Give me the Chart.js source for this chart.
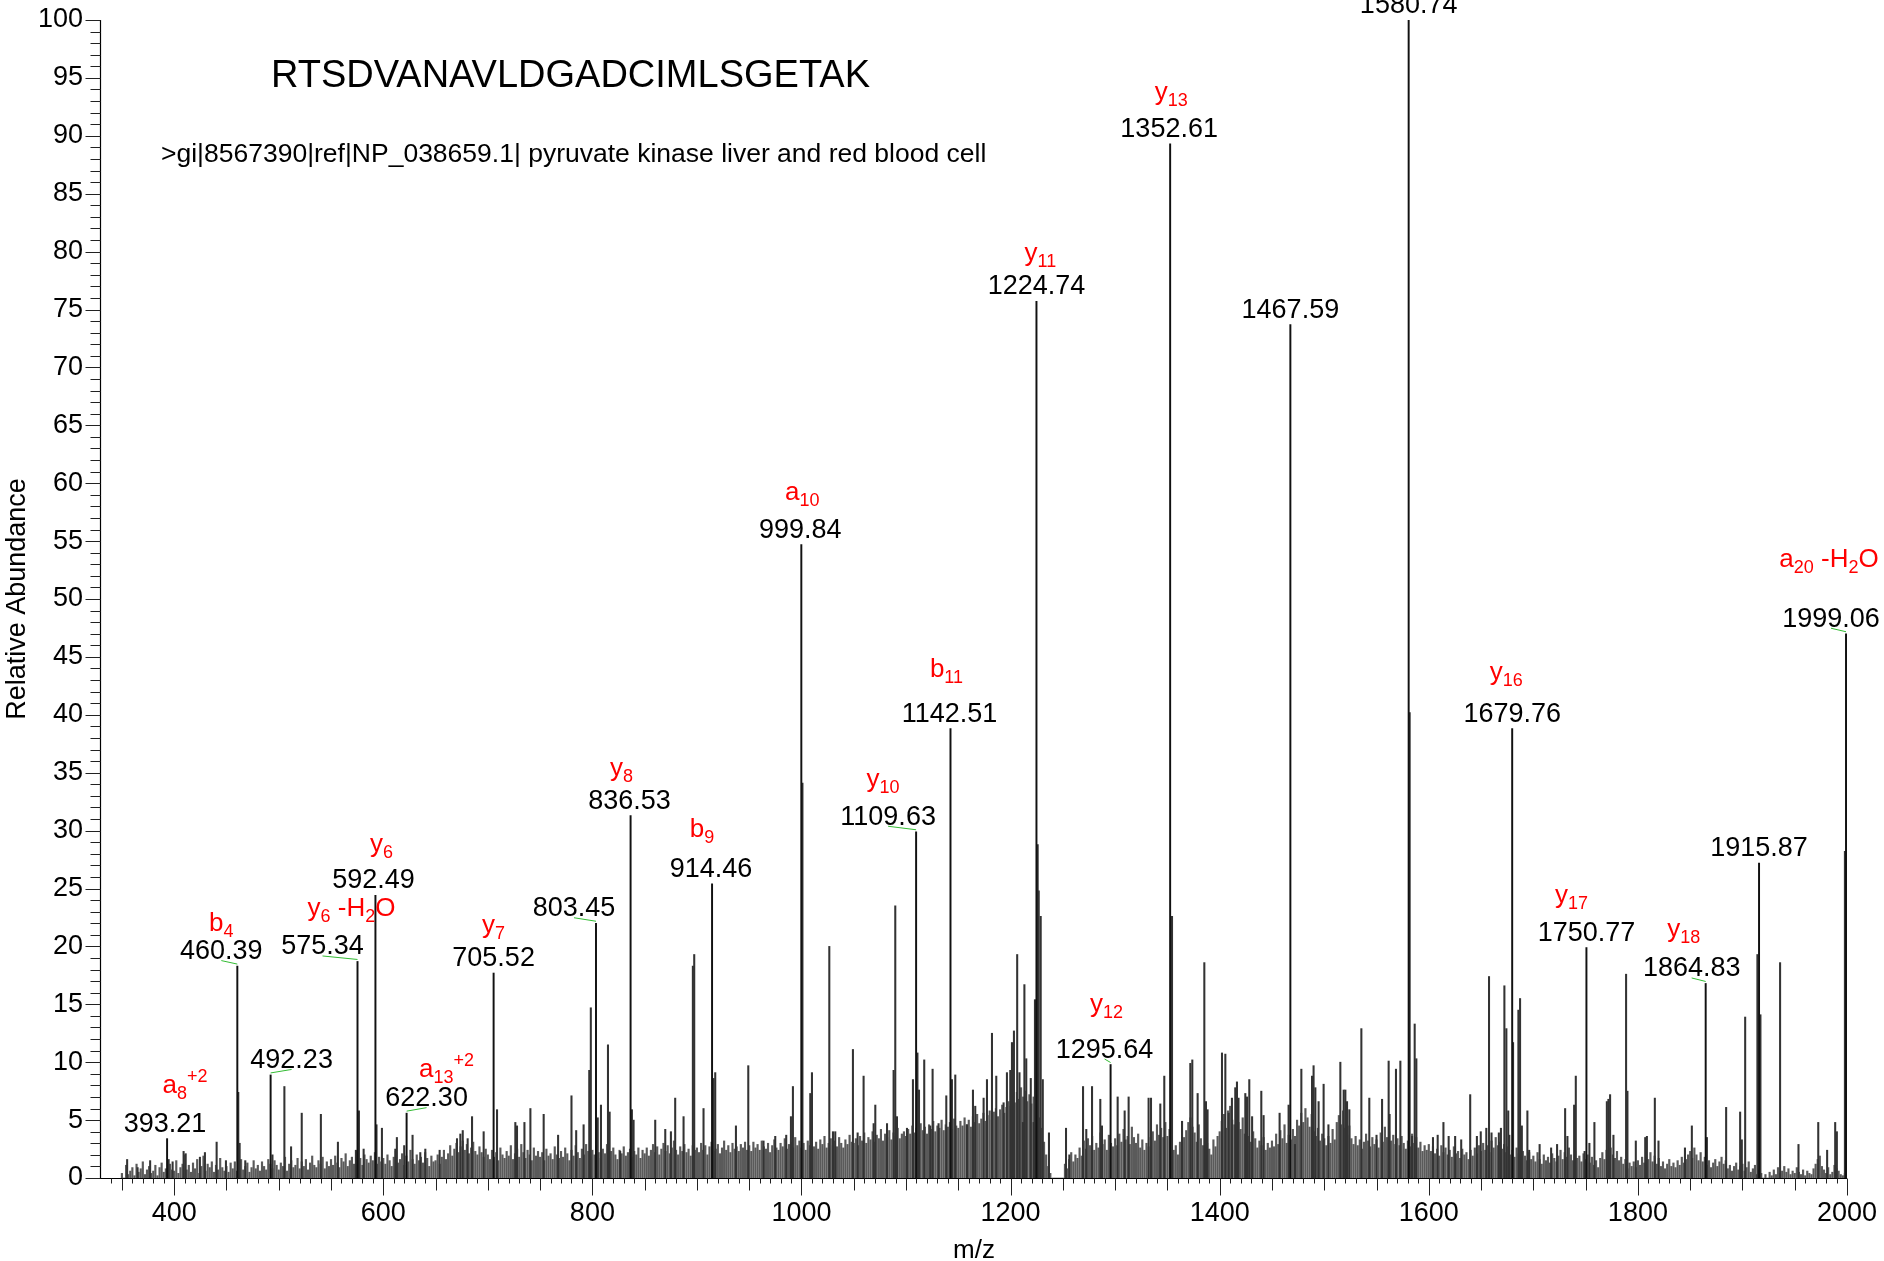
<!DOCTYPE html>
<html>
<head>
<meta charset="utf-8">
<title>RTSDVANAVLDGADCIMLSGETAK</title>
<script src="https://cdn.jsdelivr.net/npm/chart.js@4.4.1/dist/chart.umd.min.js"></script>
<style>
  html, body { margin: 0; padding: 0; background: #fff; }
  canvas { display: block; }
</style>
</head>
<body>
<canvas id="spectrum" width="1884" height="1261"></canvas>
<script>
const FONT = '"Liberation Sans", Arial, sans-serif';

const peptide = "RTSDVANAVLDGADCIMLSGETAK";
const proteinRef = ">gi|8567390|ref|NP_038659.1| pyruvate kinase liver and red blood cell";

// axis ticks
const xTicks = [400, 600, 800, 1000, 1200, 1400, 1600, 1800, 2000];
const yTicks = [0, 5, 10, 15, 20, 25, 30, 35, 40, 45, 50, 55, 60, 65, 70, 75, 80, 85, 90, 95, 100];

// annotated peaks (m/z, relative abundance, ion name; _ = subscript, ^ = superscript)
const labelMz = [393.21, 460.39, 492.23, 575.34, 592.49, 622.30, 705.52, 803.45, 836.53, 914.46, 999.84, 1109.63,
                 1142.51, 1224.74, 1295.64, 1352.61, 1467.59, 1580.74, 1679.76, 1750.77, 1864.83, 1915.87, 1999.06];
const labelInt = [3.4, 18.3, 8.9, 18.7, 24.4, 5.6, 17.7, 22.0, 31.3, 25.4, 54.7, 29.9,
                  38.8, 75.7, 9.8, 89.3, 73.7, 100, 38.8, 19.9, 16.8, 27.2, 47.0];
const ionNames = ["a_8^+2", "b_4", "", "y_6 -H_2O", "y_6", "a_13^+2", "y_7", "", "y_8", "b_9", "a_10", "y_10",
                  "b_11", "y_11", "y_12", "y_13", "", "", "y_16", "y_17", "y_18", "", "a_20 -H_2O"];

// label placement in pixels (offsets from the peak top)
const numDx = [-2, -16, 21, -35, -2, 20, 0, -22, -1, -1, -1, -28, -1, 0, -6, -1, 0, 0, 0, 0, -14, 0, -15];
const ionDx = [18, -16, 0, -6, 6, 40, 0, 0, -9, -10, 1, -33, -4, 4, -4, 1, 0, 0, -6, -15, -22, 0, -17];
const ionDy = [-46, -35, 0, -45, -43, -36, -40, 0, -40, -47, -45, -45, -52, -40, -53, -44, 0, 0, -49, -45, -46, 0, -67];
const leader = [0, 1, 1, 1, 0, 1, 0, 1, 0, 0, 0, 1, 0, 0, 1, 0, 0, 0, 0, 0, 1, 0, 1];

// other peaks
const peakMz = [355, 365, 377, 394.7, 398.5, 409, 411, 424.6, 429.4, 440.6, 449.5, 461.3, 462.6, 468, 494, 505.4,
  511.8, 522, 540.3, 556.6, 573.8, 576.7, 581.2, 593.5, 598.7, 611.5, 613, 620, 628, 635.4, 640.2, 653.9, 670.5,
  673.7, 676, 680.7, 684.9, 696, 708.8, 726.3, 727.9, 735, 740.7, 753.4, 767.2, 780, 784.5, 791.6, 797, 798.5,
  805.1, 808.2, 814.9, 816.5, 826.6, 837.8, 839.4, 860.1, 869.7, 875.1, 879.2, 887.2, 896.1, 897.4, 906.3, 915.9,
  917.5, 937.3, 949.1, 963.7, 974.9, 985.4, 989.9, 991.8, 1000.9, 1008.4, 1010, 1026.6, 1030.1, 1032.3, 1049.2,
  1053.7, 1059.4, 1069, 1070.6, 1081.8, 1088.1, 1089.7, 1091.3, 1100.9, 1106.6, 1110.9, 1112.4, 1117.4, 1123.2,
  1125.4, 1131.1, 1138.5, 1143.9, 1147.1, 1158.3, 1164, 1166.2, 1174.2, 1177.4, 1182.2, 1186.3, 1193.3, 1196.5,
  1199.7, 1201.3, 1203.2, 1206.3, 1208.5, 1211.8, 1213.2, 1215, 1219.3, 1222, 1223.3, 1225.9, 1226.9, 1228.8,
  1230.8, 1236.7, 1253, 1256.2, 1269.3, 1272.4, 1277.9, 1285.8, 1287.4, 1302.4, 1309.1, 1312.9, 1332, 1334.3,
  1343.2, 1347, 1354.4, 1364, 1371.9, 1373.8, 1378.9, 1385.3, 1386.9, 1388.4, 1402.2, 1405.4, 1408.6, 1411.7,
  1414.9, 1416.5, 1418, 1424.5, 1426.1, 1428.3, 1431, 1439.8, 1442, 1457.3, 1465.9, 1472, 1478.1, 1488.3, 1489.8,
  1491.5, 1494.6, 1499.4, 1504, 1515.4, 1518.6, 1520.2, 1521.8, 1524, 1535.5, 1543.1, 1550, 1555.3, 1561.6,
  1562.5, 1568.6, 1572.8, 1581.7, 1584, 1586.5, 1588.1, 1604, 1608.5, 1614, 1619, 1625.2, 1631, 1639.6, 1646,
  1649.7, 1655, 1657.6, 1660, 1667, 1669, 1672.3, 1674.2, 1676, 1677, 1680.6, 1685.7, 1687.3, 1689, 1694.3, 1696,
  1706, 1717, 1722.7, 1730.4, 1732.6, 1739, 1740.6, 1749, 1753.6, 1758.4, 1770.3, 1771.8, 1773.4, 1776.6, 1788.7,
  1790, 1798, 1807, 1808.6, 1816.2, 1819.7, 1845, 1851.6, 1866, 1884.4, 1897.8, 1899.4, 1902.6, 1914.3, 1917.2,
  1936, 1953.6, 1972.5, 1981, 1988.7, 1990.3, 1998];
const peakInt = [1.6, 0.9, 1.5, 1.6, 1.4, 2.3, 2.1, 1.8, 2.2, 3.1, 1.5, 7.4, 3.0, 1.5, 2.0, 7.9,
  2.7, 5.6, 5.5, 3.1, 2.4, 5.8, 2.5, 4.6, 4.3, 2.5, 3.5, 2.8, 3.7, 2.2, 2.5, 2.4, 3.4,
  3.8, 4.1, 3.4, 5.3, 4.0, 5.9, 4.8, 4.5, 4.8, 6.0, 5.5, 3.7, 7.1, 4.1, 4.6, 9.3, 14.7,
  5.2, 6.3, 11.5, 5.7, 2.3, 5.9, 5.0, 5.0, 4.2, 4.0, 6.9, 5.3, 18.3, 19.3, 6.0, 8.6,
  9.1, 4.5, 9.7, 3.2, 3.6, 3.7, 5.3, 7.9, 34.1, 7.3, 9.1, 20.0, 4.0, 4.0, 11.1,
  3.9, 8.8, 4.7, 6.3, 4.7, 9.3, 23.5, 5.3, 4.3, 8.5, 10.8, 7.6, 10.2, 4.5,
  9.4, 4.7, 7.1, 8.5, 8.9, 4.6, 7.6, 6.2, 6.9, 8.5, 12.5, 8.8, 6.5, 9.1,
  9.3, 11.7, 12.7, 19.3, 9.1, 4.8, 16.7, 10.3, 8.6, 4.8, 15.4, 28.8, 24.8, 22.6,
  8.5, 3.9, 4.3, 2.0, 7.9, 4.2, 7.9, 6.8, 4.5, 7.0, 5.8, 7.0, 6.9, 6.9,
  6.4, 8.8, 22.6, 4.9, 9.9, 10.2, 7.3, 18.6, 6.6, 5.9, 10.8, 10.7, 5.6, 6.9,
  7.8, 8.3, 6.9, 7.3, 7.0, 8.5, 5.3, 7.5, 5.4, 5.6, 6.3, 2.9, 9.4, 8.8, 9.7,
  7.8, 6.6, 8.1, 4.6, 10.0, 7.6, 7.6, 6.6, 5.9, 12.9, 6.9, 3.7, 6.8, 10.1,
  5.5, 9.4, 10.1, 40.2, 3.6, 13.3, 10.3, 3.5, 3.7, 4.8, 3.6, 3.6, 3.3, 7.2, 3.6,
  4.0, 4.3, 17.4, 3.9, 3.9, 4.3, 16.6, 12.9, 5.8, 3.7, 11.7, 14.5, 15.5, 4.5, 5.8, 2.4,
  2.9, 2.6, 2.9, 6.0, 3.6, 6.3, 8.8, 2.3, 3.0, 4.8, 6.6, 6.8, 7.2, 3.7, 17.6,
  7.5, 3.2, 3.5, 3.6, 6.9, 3.2, 2.6, 4.5, 3.5, 6.1, 5.7, 3.3, 13.9, 19.3, 14.1,
  18.6, 2.9, 4.8, 2.4, 4.8, 4.0, 28.2];

// baseline noise, one bar every 2 m/z from 350
const noiseStart = 350;
const noiseStep = 2;
const noiseInt = [
  0.4,0,1.1,0.3,0.6, 0.9,0.2,1.2,0.5,0.8, 1.4,0.3,0.7,1.0,0.4, 0.6,1.1,0.2,0.9,1.3, 0.5,0.8,0.4,1.2,0.7,
  0.6,1.5,0.4,0.9,1.2, 2.0,0.7,1.1,0.5,1.3, 0.8,1.6,0.4,1.0,1.9, 0.6,1.2,0.9,1.4,0.5, 1.1,0.7,1.7,0.9,0.6,
  1.0,0.5,1.3,0.8,1.4, 0.6,1.2,1.6,0.7,1.0, 1.3,0.5,0.9,1.5,0.8, 1.1,0.6,1.4,1.0,0.7, 1.6,1.2,0.8,1.5,1.1,
  0.7,1.3,1.0,1.8,0.6, 1.2,1.5,0.9,1.1,1.7, 0.8,1.4,1.0,1.6,0.7, 1.3,1.9,1.1,0.9,1.5, 1.2,1.8,0.8,1.4,1.0,
  1.6,1.1,1.9,1.3,0.9, 1.7,1.4,2.1,1.0,1.5, 1.8,1.2,2.3,1.4,1.7, 1.1,2.0,1.6,1.3,1.9, 1.5,2.2,1.2,1.8,1.4,
  1.7,1.2,2.0,1.5,1.0, 1.8,2.3,1.3,1.6,2.1, 1.1,1.9,1.4,2.4,1.6, 1.2,2.0,1.5,1.8,1.3, 2.2,1.7,1.0,1.9,1.4,
  1.5,2.0,1.2,1.8,2.4, 1.6,2.1,2.8,1.9,2.5, 3.0,2.2,2.7,3.2,2.4, 2.9,2.1,2.6,3.1,2.3, 2.0,2.7,2.2,1.8,2.5,
  2.0,1.6,2.4,1.8,2.2, 1.5,2.6,2.0,1.7,2.3, 1.9,2.8,1.6,2.1,2.5, 1.8,2.9,2.2,1.7,2.4, 2.0,1.5,2.6,1.9,2.3,
  1.8,2.2,1.5,2.5,1.9, 2.1,1.6,2.7,2.0,1.7, 2.3,1.8,2.6,2.1,1.5, 2.4,1.9,2.8,2.2,1.7, 2.5,2.0,2.9,2.3,1.8,
  2.4,2.0,2.8,2.2,1.7, 2.5,2.1,2.9,1.8,2.3, 2.6,2.0,1.6,2.4,2.1, 2.7,1.9,2.2,2.5,1.8, 2.3,2.0,2.6,1.7,2.4,
  2.1,2.6,1.9,2.4,2.9, 2.2,2.7,2.0,2.5,3.0, 2.3,2.8,2.1,2.6,3.2, 2.4,2.0,2.7,2.3,2.9, 2.2,2.5,1.9,2.8,2.4,
  2.6,2.2,3.0,2.4,2.8, 2.0,2.7,3.1,2.3,2.5, 2.9,2.1,2.6,3.2,2.4, 2.8,2.2,3.0,2.5,2.7, 2.3,2.9,2.6,3.1,2.4,
  2.8,2.3,3.1,2.6,2.9, 2.4,3.2,2.7,2.5,3.0, 2.2,2.8,3.3,2.6,2.4, 3.0,2.7,3.4,2.5,2.9, 3.1,2.6,3.5,2.8,3.2,
  2.6,3.0,2.4,3.2,2.8, 3.5,2.7,3.1,2.5,3.3, 2.9,3.6,2.6,3.0,3.4, 2.8,3.2,2.7,3.5,3.0, 2.6,3.3,2.9,3.7,3.1,
  3.0,3.4,2.8,3.6,3.2, 3.9,3.0,3.5,3.3,4.0, 3.1,3.7,3.4,4.2,3.2, 3.8,3.5,4.1,3.3,3.9, 3.6,4.3,3.4,3.8,4.0,
  3.6,4.2,3.8,4.5,3.9, 4.3,4.0,4.7,4.1,4.4, 3.8,4.6,4.2,4.9,4.0, 4.5,4.3,5.0,4.1,4.6, 4.4,4.8,4.2,5.1,4.5,
  4.3,4.9,4.5,5.2,4.6, 5.0,4.4,5.3,4.8,5.5, 4.7,5.1,5.6,4.9,5.4, 5.8,5.0,5.7,6.0,5.3, 5.9,6.3,5.6,6.1,6.6,
  6.2,6.9,6.5,7.4,6.8, 7.8,7.0,7.5,6.6,7.2, 6.4,7.0,6.0,6.5,5.2, 4.3,3.1,2.0,1.0,0.4, 0,0,0,0,0,
  0,1.2,0.8,1.6,2.2, 1.4,2.0,1.7,2.6,1.9, 3.2,2.5,3.4,2.8,3.6, 2.4,3.0,2.6,3.9,2.9, 3.3,2.4,3.7,3.0,2.7,
  3.4,2.8,3.8,3.1,4.2, 3.3,3.6,2.9,4.4,3.5, 3.0,3.8,2.6,3.3,2.4, 3.0,2.7,3.5,4.0,3.2, 4.6,3.7,4.3,3.5,4.8,
  3.6,4.2,3.3,2.4,2.8, 2.0,3.1,2.6,3.5,4.1, 4.8,5.2,4.4,3.9,3.1, 4.6,3.4,2.8,2.2,3.0, 2.5,2.0,3.3,2.7,3.6,
  4.0,4.9,5.5,4.3,5.8, 6.2,5.0,4.6,5.6,4.8, 4.2,5.2,3.8,4.5,3.6, 3.1,4.0,3.4,2.6,3.2, 2.8,3.5,2.4,3.0,2.6,
  3.2,2.7,3.8,2.9,4.1, 3.4,4.6,3.0,3.7,3.3, 4.2,3.6,5.0,4.5,5.6, 4.8,6.0,5.2,4.4,5.5, 4.0,3.6,4.3,3.2,3.8,
  3.4,2.8,3.6,3.0,4.2, 3.3,4.8,5.4,4.6,5.8, 4.3,3.7,4.5,3.4,2.9, 3.6,2.8,3.3,2.5,3.1, 3.8,3.2,2.7,3.5,2.9,
  3.3,2.6,3.9,3.1,4.4, 3.5,4.0,3.2,3.7,2.9, 3.4,2.8,3.6,3.0,2.5, 3.2,2.7,3.8,3.0,3.5, 2.6,3.1,2.3,2.8,2.4,
  2.9,2.3,2.7,2.1,2.5, 1.9,2.8,2.2,2.6,2.0, 2.4,1.8,2.7,2.1,2.3, 1.7,2.5,2.0,2.2,1.6, 2.4,1.9,2.6,2.1,2.8,
  2.3,3.0,2.4,2.8,2.2, 3.2,2.6,3.5,2.8,3.1, 2.5,2.9,2.2,2.7,2.0, 2.4,1.8,2.6,2.1,1.7, 2.3,1.9,1.5,2.2,1.6,
  1.9,1.4,2.2,1.6,1.2, 2.0,1.5,1.8,1.3,2.1, 1.7,1.4,1.9,2.4,1.6, 2.2,1.8,2.6,2.0,1.5, 2.3,1.7,1.9,1.4,2.1,
  1.6,2.0,1.3,1.8,1.1, 1.5,0.9,1.7,2.2,1.6, 2.4,1.9,2.6,2.0,1.7, 2.3,1.5,1.8,1.2,1.6, 0.8,1.3,1.0,1.4,0.9,
  1.5,1.1,1.8,1.3,0.9, 1.6,2.2,1.4,1.9,1.2, 1.7,1.0,1.4,0.8,1.2, 1.6,1.0,1.3,0.9,1.5, 1.1,1.8,1.3,1.6,2.0,
  2.3,1.7,2.6,2.0,1.5, 2.2,1.4,1.8,1.1,1.5, 0.9,1.3,1.6,1.0,1.4, 1.8,1.2,1.5,0.8,1.1, 0.6,1.0,1.3,0.7,1.0,
  1.2,0.6,0.9,1.4,0.5, 0.8,1.1,0.3,0.7,0.4, 0,0.3,0,0.5,0.2, 0.7,0.3,0.9,0.4,0.6, 1.0,0.5,0.8,0.3,0.6,
  0.4,0.9,0.5,0.3,0.7, 0.2,0.6,0.4,0.3,0.8, 1.2,1.6,1.9,1.0,0.7, 0.4,0.9,0.3,0.5,1.1, 0.8,0.6,0.3,0.2,0.4
];

function toPoints(xs, ys) {
    return xs.map((x, i) => ({ x: x, y: ys[i] }));
}

// splits "y_6 -H_2O" into normal / subscript / superscript runs
function parseIon(s) {
    const parts = [];
    let buf = "";
    let i = 0;
    while (i < s.length) {
        const c = s[i];
        if (c === "_" || c === "^") {
            if (buf) { parts.push({ t: buf, k: "n" }); buf = ""; }
            let j = i + 1, seg = "";
            while (j < s.length && /[0-9+\-]/.test(s[j])) { seg += s[j]; j++; }
            parts.push({ t: seg, k: c === "_" ? "sub" : "sup" });
            i = j;
        } else {
            buf += c;
            i++;
        }
    }
    if (buf) parts.push({ t: buf, k: "n" });
    return parts;
}

function drawIon(ctx, text, cx, baseY) {
    const parts = parseIon(text);
    const big = "26px " + FONT, small = "18px " + FONT;
    let w = 0;
    parts.forEach(p => {
        ctx.font = p.k === "n" ? big : small;
        p.w = ctx.measureText(p.t).width;
        w += p.w;
    });
    let x = cx - w / 2;
    ctx.textAlign = "left";
    ctx.textBaseline = "alphabetic";
    ctx.fillStyle = "#ff0000";
    parts.forEach(p => {
        ctx.font = p.k === "n" ? big : small;
        const dy = p.k === "sub" ? 6 : p.k === "sup" ? -11 : 0;
        ctx.fillText(p.t, x, baseY + dy);
        x += p.w;
    });
}

// keep the plot box where the original has it: no extra room for overhanging tick labels
function noLabelPadding(s) {
    s.paddingTop = 0;
    s.paddingBottom = 0;
    s.paddingLeft = 0;
    s.paddingRight = 0;
}

const spectrumDecor = {
    id: "spectrumDecor",
    afterDraw(chart) {
        const { ctx, chartArea: a } = chart;
        const xs = chart.scales.x, ys = chart.scales.y;
        ctx.save();

        // axis lines and tick marks
        ctx.strokeStyle = "#000";
        ctx.lineWidth = 1.2;
        const ax = a.left - 0.5, ay = a.bottom + 0.5;
        ctx.beginPath();
        ctx.moveTo(ax, a.top);
        ctx.lineTo(ax, ay);
        ctx.lineTo(a.right, ay);
        ctx.stroke();

        ctx.lineWidth = 1;
        ctx.strokeStyle = "#222";
        ctx.beginPath();
        for (let v = 0; v <= 100; v++) {
            const py = Math.round(ys.getPixelForValue(v)) + 0.5;
            const len = v % 5 === 0 ? 15 : 10;
            ctx.moveTo(ax - len, py);
            ctx.lineTo(ax, py);
        }
        for (let v = 340; v <= 2000; v += 10) {
            const px = Math.round(xs.getPixelForValue(v)) + 0.5;
            const len = v % 200 === 0 ? 17 : (v % 50 === 0 ? 12 : 5);
            ctx.moveTo(px, ay);
            ctx.lineTo(px, ay + len);
        }
        ctx.stroke();

        // header texts
        ctx.fillStyle = "#000";
        ctx.textAlign = "left";
        ctx.textBaseline = "alphabetic";
        ctx.font = "38px " + FONT;
        ctx.fillText(peptide, 271, 87);
        ctx.font = "26.5px " + FONT;
        ctx.fillText(proteinRef, 161, 162);

        // peak annotations
        labelMz.forEach((mz, i) => {
            const px = xs.getPixelForValue(mz);
            const top = ys.getPixelForValue(labelInt[i]);
            const nx = px + numDx[i];
            if (leader[i]) {
                ctx.strokeStyle = "#33bb33";
                ctx.lineWidth = 1;
                ctx.beginPath();
                ctx.moveTo(nx, top - 5.5);
                ctx.lineTo(px, top - 2);
                ctx.stroke();
            }
            ctx.fillStyle = "#000";
            ctx.font = "27px " + FONT;
            ctx.textAlign = "center";
            ctx.textBaseline = "alphabetic";
            ctx.fillText(mz.toFixed(2), nx, top - 7);
            if (ionNames[i]) drawIon(ctx, ionNames[i], px + ionDx[i], top + ionDy[i]);
        });
        ctx.restore();
    }
};

const noisePoints = noiseInt.map((v, i) => ({ x: noiseStart + i * noiseStep, y: v }));

new Chart(document.getElementById("spectrum"), {
    type: "bar",
    data: {
        datasets: [
            { label: "annotated", data: toPoints(labelMz, labelInt), backgroundColor: "#111111", barThickness: 1.3 },
            { label: "peaks", data: toPoints(peakMz, peakInt), backgroundColor: "#333333", barThickness: 1.4 },
            { label: "noise", data: noisePoints, backgroundColor: "#5a5a5a", barThickness: 1.5 }
        ]
    },
    options: {
        responsive: false,
        animation: false,
        events: [],
        datasets: { bar: { grouped: false, borderWidth: 0 } },
        layout: { autoPadding: false, padding: { left: 0, right: 37, top: 20, bottom: 0 } },
        plugins: {
            legend: { display: false },
            tooltip: { enabled: false },
            title: { display: false }
        },
        scales: {
            x: {
                type: "linear",
                position: "bottom",
                min: 330,
                max: 2000,
                offset: false,
                afterFit: s => { s.height = 83; noLabelPadding(s); },
                afterBuildTicks: s => { s.ticks = xTicks.map(v => ({ value: v })); },
                grid: { display: false, drawTicks: false, offset: false },
                border: { display: false },
                ticks: {
                    autoSkip: false, maxRotation: 0, padding: 19, color: "#000",
                    font: { family: FONT, size: 27 },
                    callback: v => String(v)
                },
                title: { display: true, text: "m/z", color: "#000", font: { family: FONT, size: 26, lineHeight: 1 }, padding: { top: 0, bottom: -3 } }
            },
            y: {
                min: 0,
                max: 100,
                afterFit: s => { s.width = 101; noLabelPadding(s); },
                afterBuildTicks: s => { s.ticks = yTicks.map(v => ({ value: v })); },
                grid: { display: false, drawTicks: false },
                border: { display: false },
                ticks: {
                    autoSkip: false, padding: 18, color: "#000",
                    font: { family: FONT, size: 27 },
                    callback: v => String(v)
                },
                title: { display: true, text: "Relative Abundance", color: "#000", font: { family: FONT, size: 27, lineHeight: 1 }, padding: { top: 4, bottom: 0 } }
            }
        }
    },
    plugins: [spectrumDecor]
});
</script>
</body>
</html>
